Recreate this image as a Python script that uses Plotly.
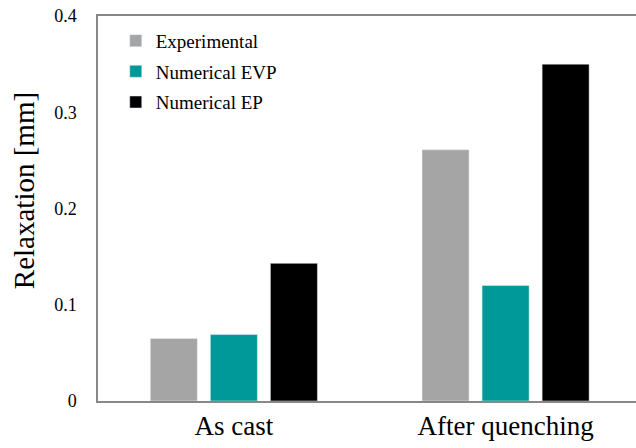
import plotly.graph_objects as go

categories = ["As cast", "After quenching"]
experimental = [0.065, 0.261]
numerical_evp = [0.069, 0.120]
numerical_ep = [0.143, 0.350]
y_ticks = [0, 0.1, 0.2, 0.3, 0.4]
y_tick_labels = ["0", "0.1", "0.2", "0.3", "0.4"]

FONT = "Liberation Serif"

fig = go.Figure()
fig.add_trace(go.Bar(name="Experimental", x=categories, y=experimental,
                     marker_color="#a5a5a5", legendgroup="a"))
fig.add_trace(go.Bar(name="Numerical EVP", x=categories, y=numerical_evp,
                     marker_color="#009999", legendgroup="b"))
fig.add_trace(go.Bar(name="Numerical EP", x=categories, y=numerical_ep,
                     marker_color="#000000", legendgroup="c"))

fig.update_layout(
    width=636, height=448,
    margin=dict(l=98, r=0, t=16, b=47),
    paper_bgcolor="white", plot_bgcolor="white",
    barmode="group", bargap=0.337, bargroupgap=0.217,
    font=dict(family=FONT, color="black"),
    legend=dict(x=0.033, y=0.985, xanchor="left", yanchor="top",
                font=dict(size=19, family=FONT), tracegroupgap=3,
                traceorder="grouped",
                itemwidth=30, bgcolor="rgba(0,0,0,0)"),
    showlegend=True,
)
fig.add_annotation(text="Relaxation [mm]", textangle=-90, showarrow=False,
                   xref="paper", yref="paper", x=0, y=0.545,
                   xanchor="center", yanchor="middle", xshift=-74,
                   font=dict(size=29, family=FONT, color="black"))
fig.update_xaxes(range=[-0.5, 1.48], showline=True, linecolor="#888888", linewidth=1.5,
                 mirror=True, ticks="", tickfont=dict(size=27, family=FONT), showgrid=False,
                 automargin=False, ticklabeloverflow="allow")
fig.update_yaxes(range=[0, 0.4], tickvals=y_ticks, ticktext=y_tick_labels,
                 showline=True, linecolor="#888888", linewidth=1.5, ticks="",
                 ticklabelstandoff=16, automargin=False, ticklabeloverflow="allow",
                 showgrid=False, zeroline=False, tickfont=dict(size=18, family=FONT))

fig.write_html("out.html", config={"displayModeBar": False},
               post_script="document.body.style.margin='0';document.body.style.overflow='hidden';")
